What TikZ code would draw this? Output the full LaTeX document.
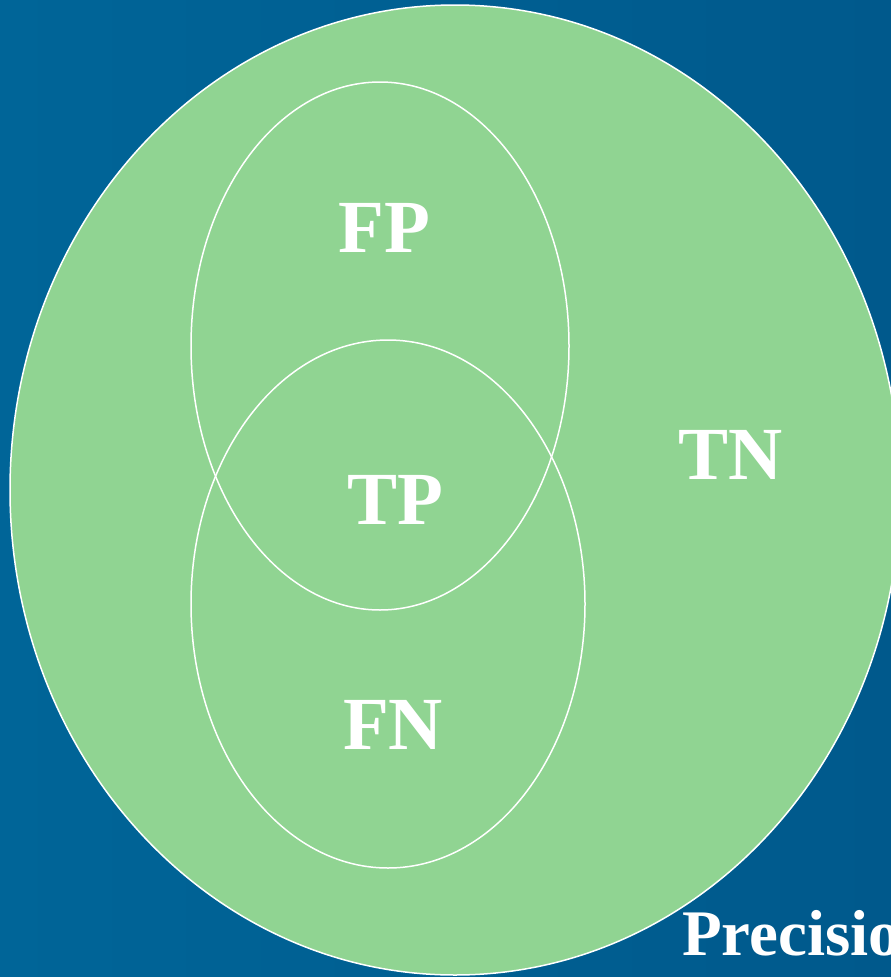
\documentclass[tikz,border=0pt]{standalone}
\usepackage{fontspec}
\setmainfont{Liberation Serif}
\usepackage{tikz}
\definecolor{bgleft}{HTML}{006598}
\definecolor{bgright}{HTML}{00598C}
\definecolor{setgreen}{HTML}{90D492}
\begin{document}
\begin{tikzpicture}[x=1pt, y=-1pt,
  region/.style={draw=white, line width=1.5pt},
  lbl/.style={text=white, font=\fontsize{75}{75}\selectfont\bfseries, inner sep=0pt}
]
  \useasboundingbox (0,0) rectangle (891,977);
  \clip (0,0) rectangle (891,977);
  \shade[left color=bgleft, right color=bgright] (0,0) rectangle (891,977);

  % the whole population and the two sets
  \draw[region, fill=setgreen] (455,490) ellipse [x radius=445, y radius=485];
  \draw[region] (380,346) ellipse [x radius=189, y radius=264];
  \draw[region] (388,604) ellipse [x radius=197, y radius=264];

  \node[lbl] (fp) at (384,228) {FP};
  \node[lbl] (tp) at (395,500) {TP};
  \node[lbl] (tn) at (731,455) {TN};
  \node[lbl] (fn) at (393,725) {FN};
  \node[lbl, font=\fontsize{65}{65}\selectfont\bfseries, anchor=base west] (prec) at (682,955) {Precision};
\end{tikzpicture}
\end{document}
